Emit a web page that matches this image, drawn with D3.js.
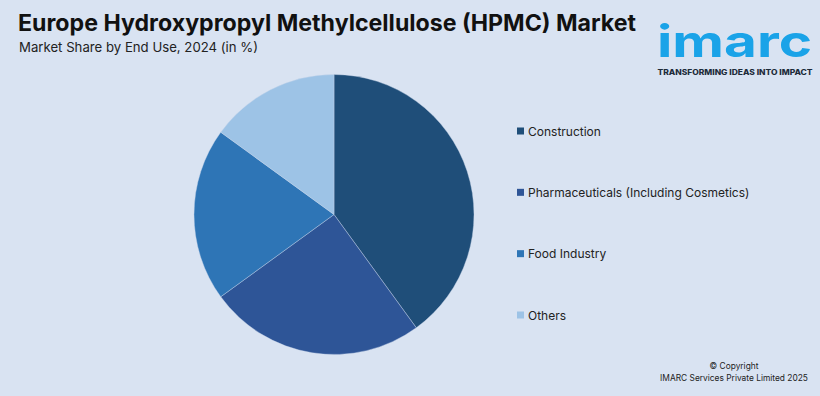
<!DOCTYPE html>
<html><head><meta charset="utf-8">
<script src="https://cdn.jsdelivr.net/npm/d3@7"></script>
<style>
html,body{margin:0;padding:0;background:#d9e3f2;}
svg{display:block;}
</style></head>
<body>
<svg id="c" width="820" height="396"></svg>
<script>
const categories = ["Construction","Pharmaceuticals (Including Cosmetics)","Food Industry","Others"];
const shares = [40, 25, 20, 15];
const colors = ["#1f4e79","#2e5597","#2e75b6","#9dc3e6"];

const svg = d3.select("#c");
svg.append("rect").attr("width",820).attr("height",396).attr("fill","#d9e3f2");

const font = "Inter, 'DejaVu Sans', sans-serif";
svg.append("text").attr("x",18).attr("y",31).attr("font-family",font).attr("font-weight",700)
  .attr("font-size",23).attr("textLength",618).attr("lengthAdjust","spacingAndGlyphs")
  .attr("fill","#111").text("Europe Hydroxypropyl Methylcellulose (HPMC) Market");
svg.append("text").attr("x",19).attr("y",52).attr("font-family",font)
  .attr("font-size",13.2).attr("fill","#222").text("Market Share by End Use, 2024 (in %)");

// logo
const logo = svg.append("g");
logo.append("text").attr("x",657).attr("y",57).attr("font-family",font)
  .attr("font-weight",700).attr("font-size",44.5).attr("textLength",155).attr("lengthAdjust","spacingAndGlyphs")
  .attr("fill","#1aa3e8").text("imarc");
logo.append("text").attr("x",735).attr("y",74.5).attr("text-anchor","middle").attr("font-family",font)
  .attr("font-weight",800).attr("font-size",7.3).attr("textLength",155).attr("lengthAdjust","spacingAndGlyphs")
  .attr("fill","#1d2b3a").text("TRANSFORMING IDEAS INTO IMPACT");

// pie
const pie = d3.pie().sort(null).value(d=>d);
const arc = d3.arc().innerRadius(0).outerRadius(140);
const g = svg.append("g").attr("transform","translate(334,214.5)");
g.selectAll("path").data(pie(shares)).join("path")
  .attr("d",arc).attr("fill",(d,i)=>colors[i]).attr("stroke","#c9d6ea").attr("stroke-width",0.4);

// legend
const ly = d3.scalePoint().domain(categories).range([131,315]);
const lg = svg.append("g");
categories.forEach((c,i)=>{
  lg.append("rect").attr("x",517).attr("y",ly(c)-3.5).attr("width",7).attr("height",7).attr("fill",colors[i]);
  lg.append("text").attr("x",528).attr("y",ly(c)+4.5).attr("font-family",font).attr("font-size",12.0)
    .attr("fill","#222").text(c);
});

// copyright
svg.append("text").attr("x",734).attr("y",369).attr("text-anchor","middle").attr("font-family",font)
  .attr("font-size",8.4).attr("fill","#222").text("© Copyright");
svg.append("text").attr("x",734).attr("y",381).attr("text-anchor","middle").attr("font-family",font)
  .attr("font-size",8.4).attr("fill","#222").text("IMARC Services Private Limited 2025");
</script>
</body></html>
